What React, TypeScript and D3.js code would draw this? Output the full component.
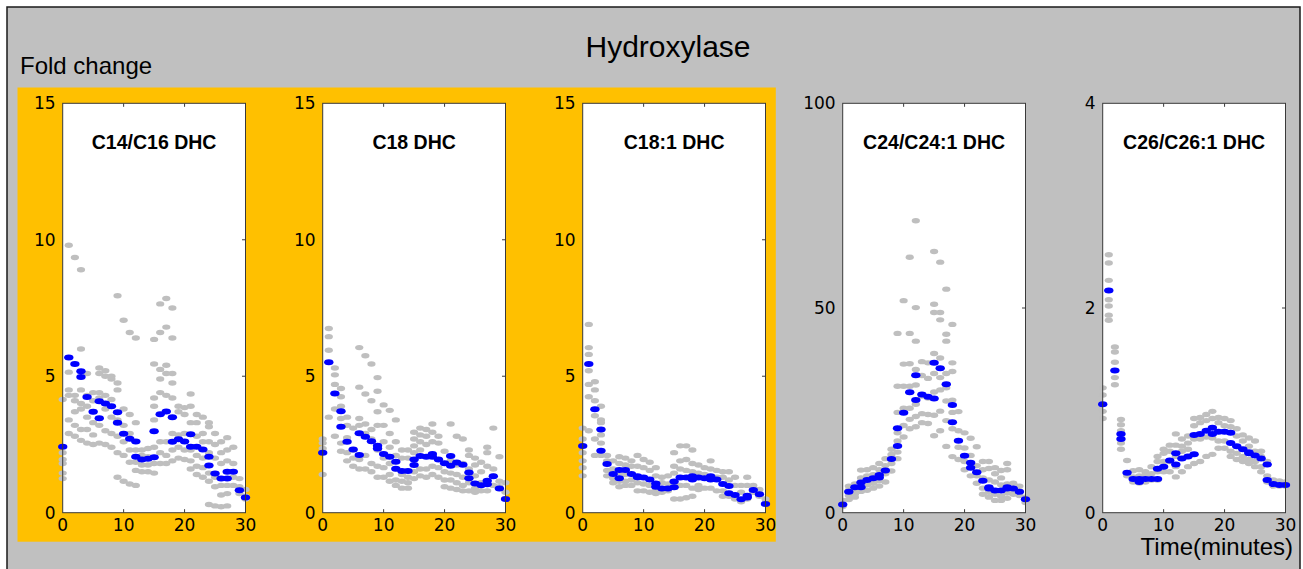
import React from "react";
import * as d3 from "d3";

// ---- data ----
const chartTitle = "Hydroxylase";
const yAxisTitle = "Fold change";
const xAxisTitle = "Time(minutes)";
const panelTitles = ["C14/C16 DHC", "C18 DHC", "C18:1 DHC", "C24/C24:1 DHC", "C26/C26:1 DHC"];
const yMax = [15, 15, 15, 100, 4];
const yTicks = [[0, 5, 10, 15], [0, 5, 10, 15], [0, 5, 10, 15], [0, 50, 100], [0, 2, 4]];
const xTicks = [0, 10, 20, 30];
const highlighted = [true, true, true, false, false];

// sampling times of the mean (blue) series
const times = [0, 1, 2, 3, 3, 4, 5, 6, 6, 7, 8, 9, 9, 10, 11, 12, 12, 13, 14, 15, 15, 16, 17, 18, 18, 19, 20, 21, 21, 22, 23, 24, 24, 25, 26, 27, 27, 28, 29, 30];

const meanC14 = [2.42, 5.69, 5.45, 5.18, 4.97, 4.24, 3.70, 4.08, 3.46, 4.0, 3.9, 3.68, 3.30, 2.89, 2.71, 2.61, 2.05, 1.95, 1.98, 2.03, 2.98, 3.61, 3.71, 3.50, 2.60, 2.69, 2.61, 2.87, 2.42, 2.42, 2.32, 2.05, 1.73, 1.44, 1.25, 1.25, 1.50, 1.50, 0.82, 0.56];
const meanC18 = [2.20, 5.51, 4.37, 3.72, 3.15, 2.60, 2.32, 2.91, 2.11, 2.78, 2.62, 2.45, 2.35, 2.15, 2.05, 1.87, 1.61, 1.53, 1.53, 1.75, 1.95, 2.08, 2.05, 2.15, 2.05, 1.95, 1.81, 2.08, 1.72, 1.84, 1.76, 1.47, 1.26, 1.07, 1.01, 1.04, 1.17, 1.34, 0.89, 0.50];
const meanC181 = [2.44, 5.45, 3.79, 3.05, 2.27, 1.78, 1.42, 1.56, 1.26, 1.56, 1.42, 1.34, 1.30, 1.29, 1.22, 1.07, 0.95, 0.89, 0.89, 0.93, 1.14, 1.29, 1.29, 1.34, 1.22, 1.29, 1.26, 1.34, 1.22, 1.22, 1.05, 0.98, 0.71, 0.65, 0.49, 0.56, 0.62, 0.83, 0.68, 0.32];
const meanC24 = [2.0, 5.1, 6.2, 7.4, 6.2, 8.0, 8.4, 9.2, 8.6, 10.3, 13.1, 16.3, 20.6, 24.4, 29.4, 33.6, 27.5, 28.9, 28.3, 27.9, 36.6, 35.3, 31.4, 26.3, 22.1, 17.6, 13.9, 12.2, 11.0, 9.9, 7.8, 6.2, 5.9, 5.4, 5.4, 5.9, 6.2, 5.9, 5.1, 3.3];
const meanC26 = [1.06, 2.17, 1.39, 0.77, 0.72, 0.39, 0.33, 0.33, 0.30, 0.33, 0.33, 0.33, 0.43, 0.45, 0.51, 0.58, 0.47, 0.53, 0.55, 0.57, 0.76, 0.77, 0.80, 0.83, 0.77, 0.79, 0.79, 0.78, 0.68, 0.65, 0.62, 0.59, 0.58, 0.56, 0.53, 0.47, 0.32, 0.28, 0.27, 0.27];

// individual replicate values (grey), one list per minute 0..30
const repC14 = [
  [4.15, 2.2, 1.95, 1.8, 1.45, 1.25], [9.8, 5.15, 4.5, 4.3, 3.4, 2.9], [9.35, 4.3, 4.1, 3.7, 3.2, 2.8], [8.9, 6.0, 4.5, 4.0, 3.8, 3.05, 2.65],
  [5.1, 4.3, 3.9, 3.5, 3.05, 2.55], [4.4, 4.1, 3.7, 3.3, 2.85, 2.5], [5.3, 5.1, 4.4, 4.2, 3.2, 2.55], [5.2, 5.0, 4.3, 3.8, 3.0, 2.5],
  [5.0, 4.9, 4.15, 3.5, 2.9, 2.4], [7.95, 4.75, 4.5, 3.4, 2.8, 2.2, 1.3], [7.05, 3.8, 3.2, 2.6, 2.1, 1.15], [6.6, 3.6, 2.9, 2.3, 1.85, 1.05],
  [6.4, 3.3, 2.3, 1.85, 1.55, 1.0], [2.3, 2.1, 1.75, 1.5], [2.35, 2.05, 1.75, 1.5], [6.35, 5.45, 4.2, 3.9, 3.4, 2.4, 1.8, 1.45],
  [7.65, 6.6, 5.25, 4.9, 4.4, 2.6, 2.2, 1.8], [7.85, 6.8, 5.4, 5.1, 4.3, 2.6, 2.1, 1.8], [7.5, 6.4, 5.1, 4.75, 4.2, 2.9, 2.3, 1.9], [3.9, 3.7, 2.85, 2.4, 2.0],
  [3.85, 3.6, 2.9, 2.3, 1.95], [4.35, 3.9, 3.3, 2.3, 1.9, 1.6], [3.6, 3.3, 2.8, 2.1, 1.7, 1.4], [3.5, 2.9, 2.6, 2.0, 1.65, 1.3],
  [3.3, 3.15, 2.6, 2.2, 1.45, 1.15, 0.3], [2.9, 2.5, 2.0, 1.3, 0.95, 0.25], [2.6, 2.2, 1.8, 1.0, 0.65, 0.22], [2.75, 2.3, 1.9, 1.0, 0.7, 0.25],
  [2.4, 1.8, 1.3, 1.0], [1.25, 0.95, 0.7], [0.85, 0.6, 0.5],
];
const repC18 = [
  [2.7, 2.55, 2.35, 1.4], [6.75, 6.45, 5.95, 3.5], [5.3, 5.05, 4.7, 3.8, 2.8], [4.55, 4.25, 3.9, 3.45, 2.55, 2.25],
  [3.5, 3.2, 2.75, 2.2, 1.9], [3.1, 2.3, 2.0, 1.7], [6.05, 4.6, 3.45, 3.2, 1.95, 1.6], [5.75, 4.35, 3.25, 2.9, 2.1, 1.6],
  [5.45, 4.1, 3.05, 2.7, 1.8, 1.5], [4.95, 4.45, 3.7, 3.2, 2.3, 1.7, 1.3], [3.95, 3.2, 2.6, 2.0, 1.65, 1.3], [3.75, 2.9, 2.4, 1.8, 1.4, 1.15],
  [3.4, 2.6, 2.1, 1.6, 1.2, 1.0], [2.3, 2.0, 1.4, 1.15, 0.9], [2.3, 2.0, 1.3, 1.1, 0.9], [2.95, 2.7, 2.45, 2.2, 1.5, 1.25],
  [3.1, 2.85, 2.6, 2.3, 1.6, 1.35], [3.05, 2.8, 2.5, 1.6, 1.3], [3.25, 2.95, 2.6, 1.7, 1.4], [2.8, 2.55, 1.65, 1.3],
  [2.25, 1.5, 1.2, 0.95], [3.25, 1.9, 1.45, 1.2, 0.9], [2.8, 1.75, 1.4, 1.1, 0.85], [2.7, 1.8, 1.3, 1.0, 0.8],
  [2.3, 2.1, 1.6, 1.1, 0.8], [2.0, 1.75, 1.35, 0.9, 0.75], [1.85, 1.5, 1.1, 0.8], [2.4, 2.2, 1.7, 0.8],
  [3.1, 1.6, 1.35, 1.0], [2.05, 1.15, 0.95], [1.1, 0.75],
];
const repC181 = [
  [3.1, 2.7, 2.2, 1.9, 1.65, 1.35], [6.9, 6.05, 5.8, 5.2, 4.7, 4.25, 3.0], [4.8, 4.5, 4.1, 3.55, 2.7, 2.1], [3.9, 3.4, 3.3, 2.85, 2.55, 2.1],
  [2.1, 1.9, 1.55, 1.35], [1.9, 1.6, 1.25, 1.1], [2.05, 1.8, 1.45, 1.15, 0.95], [2.0, 1.75, 1.4, 1.15, 1.0],
  [1.9, 1.7, 1.2, 1.0], [2.1, 1.7, 1.1, 0.8], [1.95, 1.65, 1.05, 0.8], [1.85, 1.55, 1.0, 0.75],
  [1.65, 1.35, 0.85, 0.7], [1.3, 1.1, 0.75], [1.35, 1.05, 0.8], [2.2, 1.7, 1.45, 1.1, 0.5],
  [2.45, 1.9, 1.6, 1.0, 0.5], [2.45, 1.95, 1.55, 1.0, 0.55], [2.3, 1.8, 1.5, 0.9, 0.6], [1.75, 1.45, 1.0, 0.85],
  [1.65, 1.4, 0.9], [1.9, 1.6, 0.9], [1.55, 1.3, 0.8], [1.5, 1.3, 0.8, 0.6],
  [1.5, 1.2, 0.6], [1.3, 1.0, 0.5], [1.0, 0.75, 0.4], [1.3, 1.0, 0.5],
  [1.0, 0.75], [0.85, 0.6], [0.5],
];
const repC24 = [
  [3.0, 1.5], [6.5, 5.5, 4.2, 3.2], [7.0, 5.6, 4.5, 3.8], [10.4, 8.5, 6.5, 5.2],
  [10.5, 9.0, 6.8, 5.5], [11.0, 9.3, 7.2, 6.0], [12.0, 10.5, 7.8, 6.5], [13.2, 11.5, 9.5, 7.5],
  [15.5, 14.2, 12.0, 10.2], [43.8, 30.9, 24.5, 19.5, 17.5, 14.8, 13.2], [51.8, 36.3, 30.9, 25.5, 21.3, 18.5], [62.4, 43.8, 36.4, 30.9, 25.5, 22.8, 20.5],
  [71.3, 50.1, 41.9, 35.0, 31.2, 26.5, 23.5, 21.0], [36.9, 33.5, 28.5, 24.2, 22.0], [36.6, 32.8, 28.0, 24.0, 21.8], [63.8, 50.9, 48.9, 38.9, 34.0, 29.5, 23.8, 18.8],
  [61.2, 48.9, 47.1, 37.8, 33.0, 30.0, 24.8, 20.0], [54.6, 43.6, 41.9, 34.0, 30.5, 27.3, 22.5, 16.2], [46.0, 36.6, 34.5, 27.5, 24.5, 20.5, 13.7], [24.7, 20.0, 16.0, 13.0],
  [19.5, 15.8, 12.5, 10.5], [18.2, 14.0, 11.0, 9.0], [16.1, 11.5, 9.0, 7.2], [12.5, 10.5, 8.5, 6.0, 4.5],
  [12.5, 10.8, 8.0, 5.0, 3.8], [11.0, 9.5, 7.5, 4.5, 3.0], [10.3, 8.5, 6.8, 4.0, 3.0], [12.0, 10.5, 7.0, 4.8, 3.5],
  [7.2, 5.5, 4.5], [6.5, 5.4, 4.2], [3.8, 2.5],
];
const repC26 = [
  [1.22, 1.15, 0.99, 0.92], [2.52, 2.44, 2.27, 2.08, 2.02, 1.93, 1.88], [1.62, 1.57, 1.47, 1.32, 1.25], [0.91, 0.86, 0.8, 0.68, 0.62],
  [0.51, 0.36], [0.41, 0.35, 0.3], [0.42, 0.36, 0.29], [0.4, 0.37, 0.3],
  [0.45, 0.38, 0.32], [0.55, 0.5, 0.4, 0.32], [0.62, 0.58, 0.5, 0.4], [0.66, 0.6, 0.5, 0.4],
  [0.77, 0.66, 0.55, 0.45, 0.35], [0.72, 0.65, 0.6, 0.4], [0.75, 0.68, 0.62, 0.45], [0.92, 0.85, 0.72, 0.48],
  [0.93, 0.88, 0.72, 0.5], [0.96, 0.9, 0.74, 0.55], [0.99, 0.92, 0.73, 0.57], [0.93, 0.88, 0.7, 0.63],
  [0.92, 0.85, 0.7, 0.63], [0.9, 0.84, 0.6, 0.55], [0.82, 0.75, 0.58, 0.52], [0.76, 0.7, 0.55, 0.5],
  [0.73, 0.65, 0.52, 0.48], [0.7, 0.6, 0.5, 0.45], [0.6, 0.55, 0.45, 0.4], [0.5, 0.36, 0.3],
  [0.32, 0.26], [0.31, 0.26], [0.3, 0.26],
];

const means = [meanC14, meanC18, meanC181, meanC24, meanC26];
const reps = [repC14, repC18, repC181, repC24, repC26];

// ---- layout ----
const W = 1303;
const H = 569;
const panelLeft0 = 62.7;
const panelStep = 260;
const panelW = 182.8;
const plotTop = 103.3;
const plotBottom = 512.7;
const sans = "'Liberation Sans', Arial, Helvetica, sans-serif";
const tickFont = "'DejaVu Sans', sans-serif";

function Panel({ i }: { i: number }) {
  const left = panelLeft0 + i * panelStep;
  const right = left + panelW;
  const x = d3.scaleLinear().domain([0, 30]).range([left, right]);
  const y = d3.scaleLinear().domain([0, yMax[i]]).range([plotBottom, plotTop]);
  const grey: { t: number; v: number }[] = [];
  reps[i].forEach((vals, t) => vals.forEach((v) => grey.push({ t, v })));
  const blue = means[i].map((v, k) => ({ t: times[k], v }));
  const tickLen = 3.5;
  return (
    <g>
      <rect x={left} y={plotTop} width={right - left} height={plotBottom - plotTop} fill="#ffffff" />
      <text x={(left + right) / 2} y={149} textAnchor="middle" fontFamily={sans} fontWeight="bold" fontSize={19.5} fill="#000">
        {panelTitles[i]}
      </text>
      {grey.map((d, k) => (
        <ellipse key={"g" + k} cx={x(d.t)} cy={y(d.v)} rx={4.1} ry={2.7} fill="#bfbfbf" />
      ))}
      {blue.map((d, k) => (
        <ellipse key={"b" + k} cx={x(d.t)} cy={y(d.v)} rx={4.7} ry={3.0} fill="#0000ff" />
      ))}
      <rect x={left} y={plotTop} width={right - left} height={plotBottom - plotTop} fill="none" stroke="#3a3a3a" strokeWidth={1} />
      {xTicks.slice(1, -1).map((t) => (
        <g key={"xt" + t}>
          <line x1={x(t)} x2={x(t)} y1={plotBottom} y2={plotBottom - tickLen} stroke="#3a3a3a" />
          <line x1={x(t)} x2={x(t)} y1={plotTop} y2={plotTop + tickLen} stroke="#3a3a3a" />
        </g>
      ))}
      {yTicks[i].slice(1, -1).map((v) => (
        <line key={"yt" + v} x1={right} x2={right - tickLen} y1={y(v)} y2={y(v)} stroke="#3a3a3a" />
      ))}
      {xTicks.map((t) => (
        <text key={"xl" + t} x={x(t)} y={525} textAnchor="middle" dominantBaseline="central" fontFamily={tickFont} fontSize={17} fill="#000">
          {t}
        </text>
      ))}
      {yTicks[i].map((v) => (
        <text key={"yl" + v} x={left - 7} y={y(v)} textAnchor="end" dominantBaseline="central" fontFamily={tickFont} fontSize={17} fill="#000">
          {v}
        </text>
      ))}
    </g>
  );
}

export default function App() {
  const nHigh = highlighted.filter(Boolean).length;
  return (
    <svg width={W} height={H} style={{ position: "absolute", left: 0, top: 0 }} xmlns="http://www.w3.org/2000/svg">
      <rect x={0} y={0} width={W} height={H} fill="#ffffff" />
      <rect x={7} y={7} width={1293} height={600} fill="#c0c0c0" stroke="#1a1a1a" strokeWidth={1.5} />
      <rect x={17.5} y={87.5} width={panelLeft0 + (nHigh - 1) * panelStep + panelW + 10.3 - 17.5} height={541.7 - 87.5} fill="#ffc000" />
      <text x={668} y={57} textAnchor="middle" fontFamily={sans} fontSize={30} fill="#000">
        {chartTitle}
      </text>
      <text x={20} y={74} fontFamily={sans} fontSize={24} fill="#000">
        {yAxisTitle}
      </text>
      {panelTitles.map((_, i) => (
        <Panel key={i} i={i} />
      ))}
      <text x={1293} y={555} textAnchor="end" fontFamily={sans} fontSize={24} fill="#000">
        {xAxisTitle}
      </text>
    </svg>
  );
}
